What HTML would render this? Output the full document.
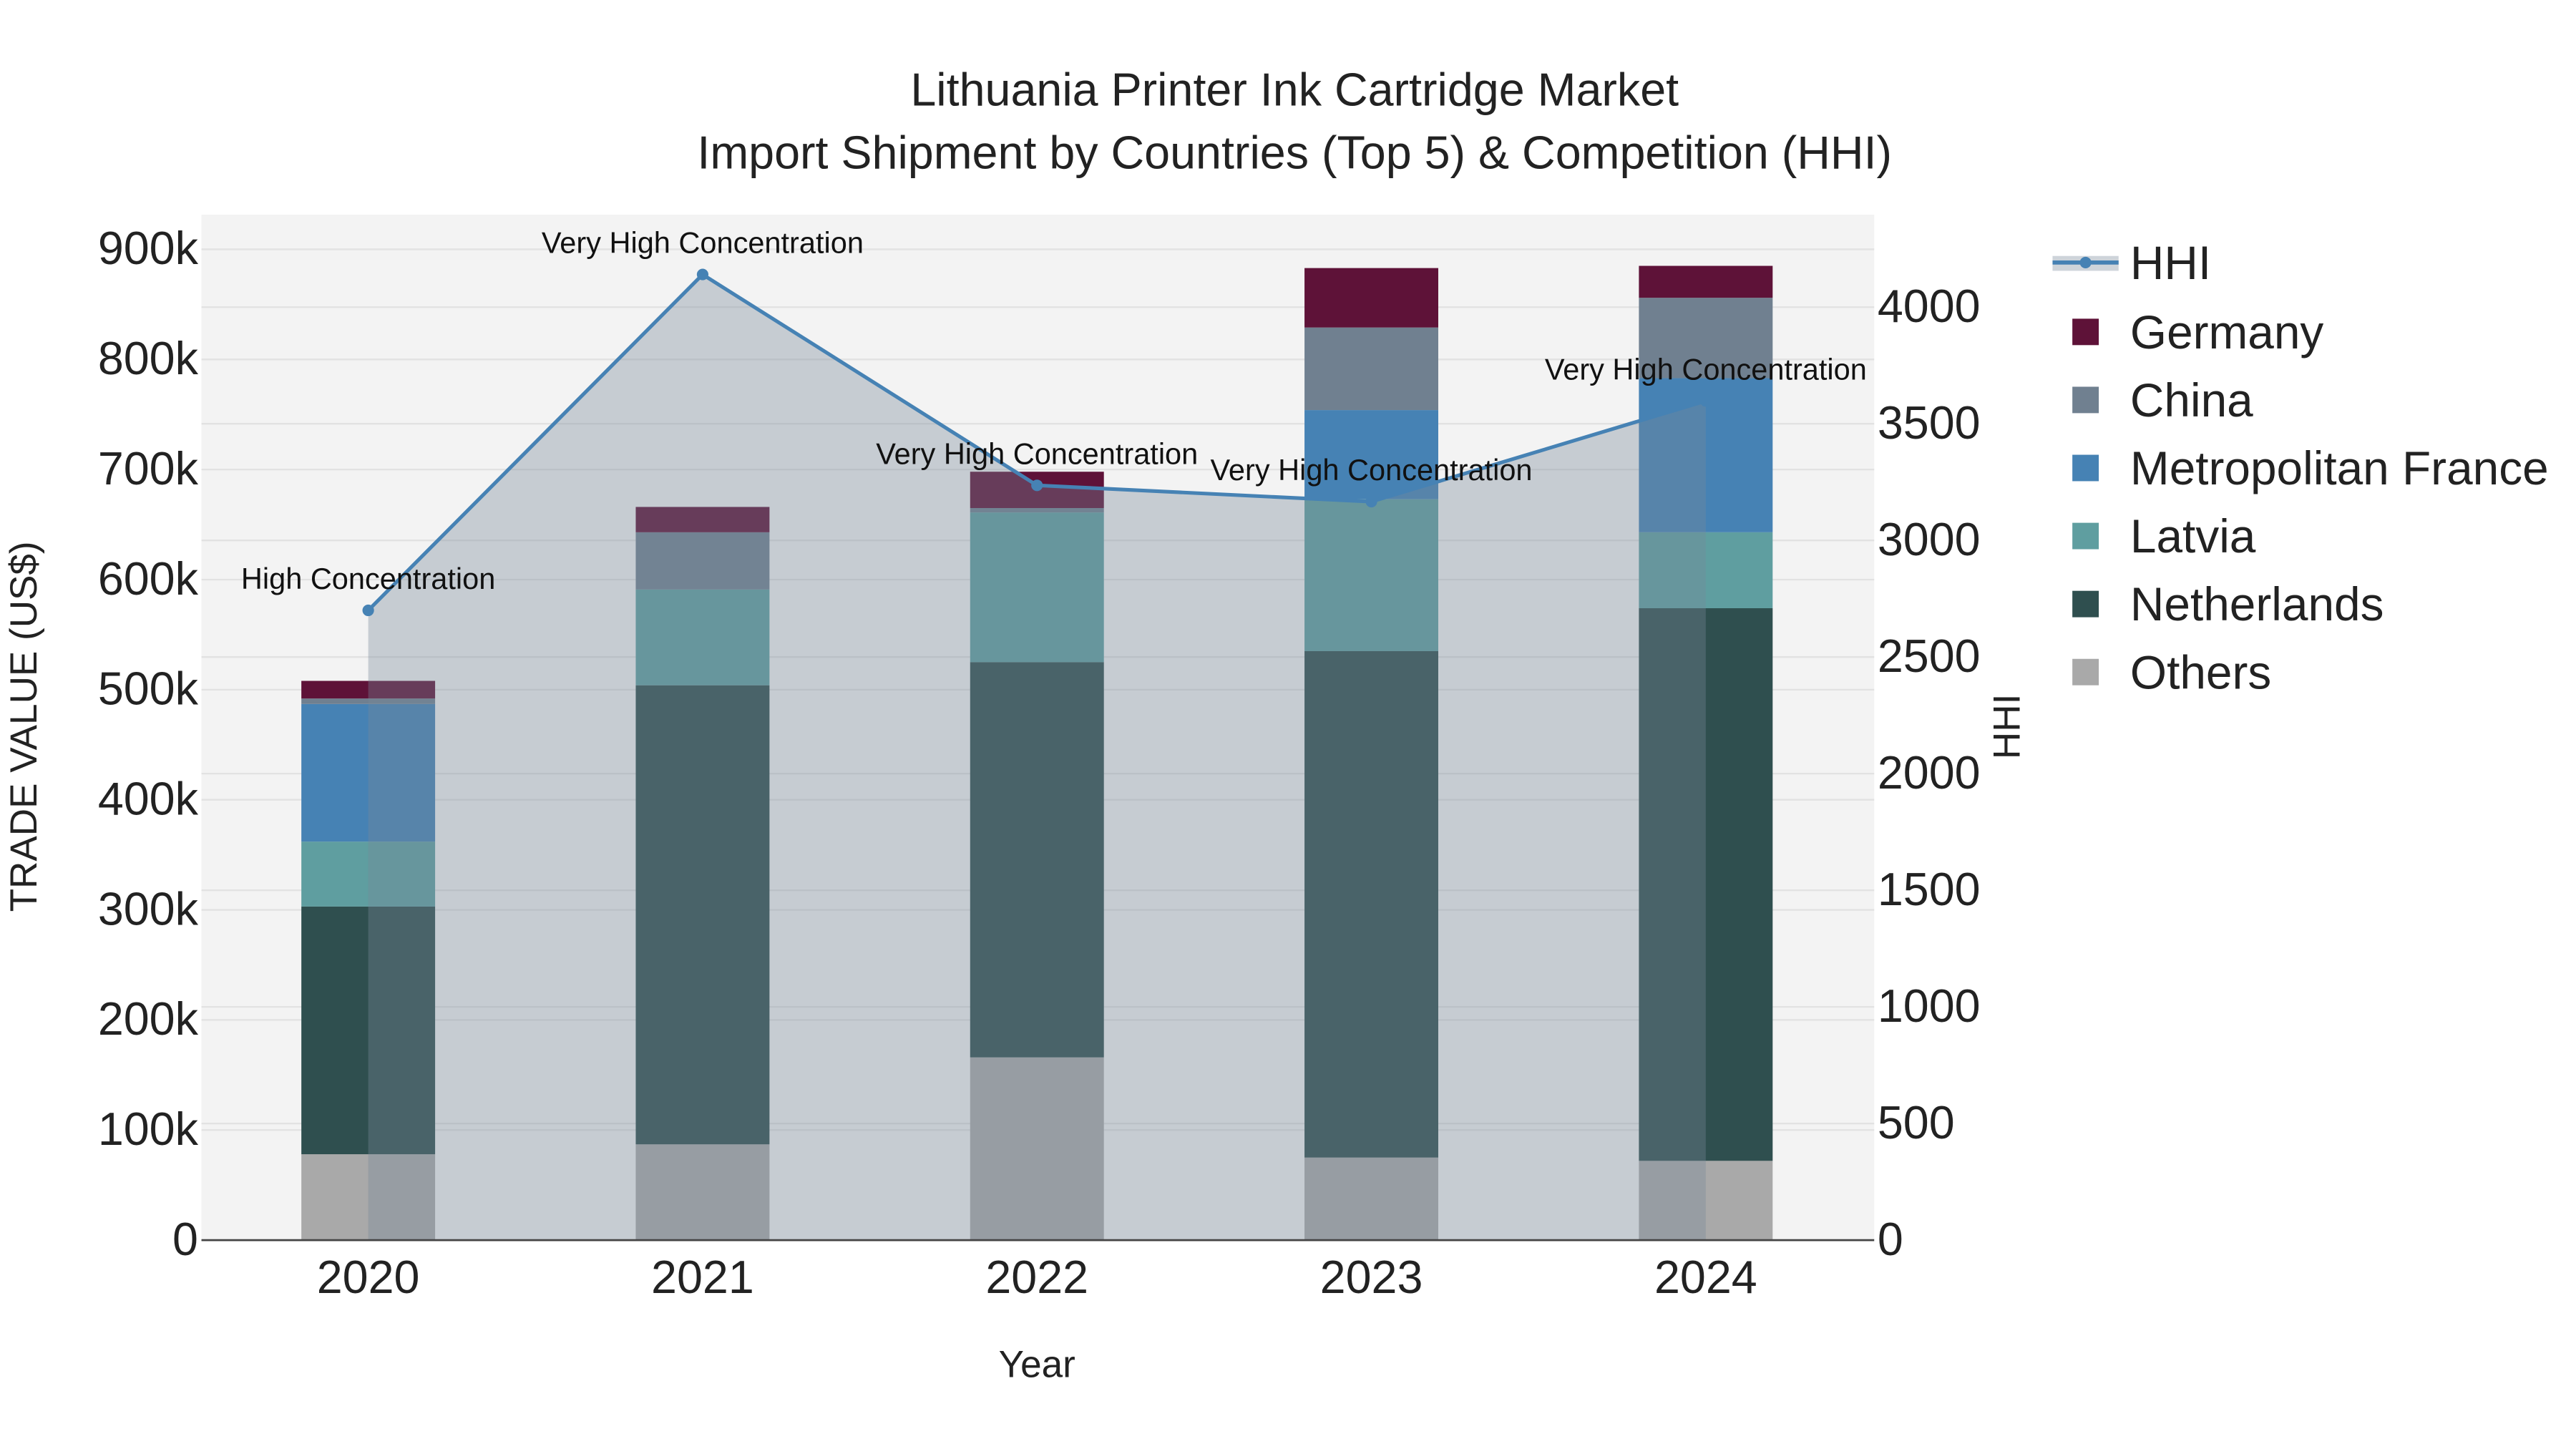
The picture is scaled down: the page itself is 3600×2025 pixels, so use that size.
<!DOCTYPE html>
<html><head><meta charset="utf-8"><style>
html,body{margin:0;padding:0;background:#fff;}
svg{display:block;font-family:"Liberation Sans",sans-serif;}
</style></head><body>
<svg id="chart" width="3600" height="2025" viewBox="0 0 1560 877.5" xmlns="http://www.w3.org/2000/svg">
<rect x="0" y="0" width="1560" height="877.5" fill="#fff"/>
<rect x="122" y="130" width="1013" height="621" fill="#f3f3f3"/>
<g id="grid"></g>
<g id="bars"></g>
<g id="hhi"></g>
<g id="axes"></g>
<text x="784" y="64" font-size="28" text-anchor="middle" fill="#222">Lithuania Printer Ink Cartridge Market</text>
<text x="784" y="102" font-size="28" text-anchor="middle" fill="#222">Import Shipment by Countries (Top 5) &amp; Competition (HHI)</text>
<text x="628" y="834" font-size="23" text-anchor="middle" fill="#222">Year</text>
<text transform="translate(22,440) rotate(-90)" font-size="23" text-anchor="middle" fill="#222">TRADE VALUE (US$)</text>
<text transform="translate(1223,440) rotate(-90)" font-size="23" text-anchor="middle" fill="#222">HHI</text>
<g id="legend"></g>
</svg>
<script>
const years = ['2020','2021','2022','2023','2024'];
const seriesNames = ['Others','Netherlands','Latvia','Metropolitan France','China','Germany'];
const others = [78000, 87000, 166000, 75000, 72000];
const netherlands = [225000, 417000, 359000, 460000, 502000];
const latvia = [59000, 87000, 136000, 138000, 69000];
const france = [125000, 0, 0, 81000, 140000];
const china = [5000, 52000, 4000, 75000, 73000];
const germany = [16000, 23000, 33000, 54000, 29000];
const hhi = [2700, 4140, 3236, 3166, 3598];
const hhiLabels = ['High Concentration','Very High Concentration','Very High Concentration','Very High Concentration','Very High Concentration'];
const yTicks = [0,100000,200000,300000,400000,500000,600000,700000,800000,900000];
const yTickLabels = ['0','100k','200k','300k','400k','500k','600k','700k','800k','900k'];
const y2Ticks = [0,500,1000,1500,2000,2500,3000,3500,4000];

const colors = ['#a9a9a9','#2f4f4f','#5f9ea0','#4682b4','#708090','#5e1238'];
const NS='http://www.w3.org/2000/svg';
const L=122,R=1135,T=130,B=751;
const xPos = i => 223 + i*202.5;
const yL = v => B - v*(600/900000);
const yR = v => B - v*(565/4000);
function mk(tag, attrs, parent){const e=document.createElementNS(NS,tag);for(const k in attrs)e.setAttribute(k,attrs[k]);parent.appendChild(e);return e;}
const grid=document.getElementById('grid'), bars=document.getElementById('bars'), hg=document.getElementById('hhi'), axes=document.getElementById('axes'), lg=document.getElementById('legend');

yTicks.forEach((v,i)=>{
  if(v>0){const g=mk('line',{x1:L,x2:R,y1:yL(v),y2:yL(v),stroke:'#e2e2e2','stroke-width':1},grid);
  
  }
  const t=mk('text',{x:L-2,y:yL(v)+9,'font-size':28,'text-anchor':'end',fill:'#222'},axes);t.textContent=yTickLabels[i];
  
  
});
y2Ticks.forEach(v=>{
  if(v>0){const g=mk('line',{x1:L,x2:R,y1:yR(v),y2:yR(v),stroke:'#e2e2e2','stroke-width':1},grid);
  
  }
  const t=mk('text',{x:R+2,y:yR(v)+9,'font-size':28,fill:'#222'},axes);t.textContent=String(v);
  
  
});
const allSeries=[others,netherlands,latvia,france,china,germany];
years.forEach((yr,i)=>{
  let base=0;
  allSeries.forEach((s,k)=>{
    const v=s[i]; if(v<=0) return;
    const r=mk('rect',{x:xPos(i)-40.5,width:81,y:yL(base+v),height:yL(base)-yL(base+v),fill:colors[k]},bars);
    
    
    base+=v;
  });
  const t=mk('text',{x:xPos(i),y:783,'font-size':28,'text-anchor':'middle',fill:'#222'},axes);t.textContent=yr;
  
  
});
let pts=hhi.map((v,i)=>xPos(i)+','+yR(v)).join(' ');
const area=mk('polygon',{points:xPos(0)+','+B+' '+pts+' '+xPos(hhi.length-1)+','+B,fill:'rgba(119,136,153,0.36)'},hg);


const line=mk('polyline',{points:pts,fill:'none',stroke:'#4682b4','stroke-width':2.2},hg);


hhi.forEach((v,i)=>{
  const c=mk('circle',{cx:xPos(i),cy:yR(v),r:3.5,fill:'#4682b4'},hg);
  
  
  const t=mk('text',{x:xPos(i),y:yR(v)-13,'font-size':18,'text-anchor':'middle',fill:'#111'},hg);t.textContent=hhiLabels[i];
  
  
});
const ax=mk('line',{x1:L,x2:R,y1:B,y2:B,stroke:'#444','stroke-width':1.2},axes);


// legend
const li=mk('rect',{x:1243,y:155,width:40,height:9,fill:'rgba(119,136,153,0.36)'},lg);


const ll=mk('line',{x1:1243,x2:1283,y1:159,y2:159,stroke:'#4682b4','stroke-width':2.5},lg);


const lc=mk('circle',{cx:1263,cy:159,r:3.5,fill:'#4682b4'},lg);


const lt=mk('text',{x:1290,y:169,'font-size':28.5,fill:'#222'},lg);lt.textContent='HHI';


const legOrder=[5,4,3,2,1,0];
legOrder.forEach((k,j)=>{
  const y=201+j*41.2;
  const s=mk('rect',{x:1255,y:y-8,width:16,height:16,fill:colors[k]},lg);
  
  
  const t=mk('text',{x:1290,y:y+10,'font-size':28.5,fill:'#222'},lg);t.textContent=seriesNames[k];
  
  
});
</script>
</body></html>
